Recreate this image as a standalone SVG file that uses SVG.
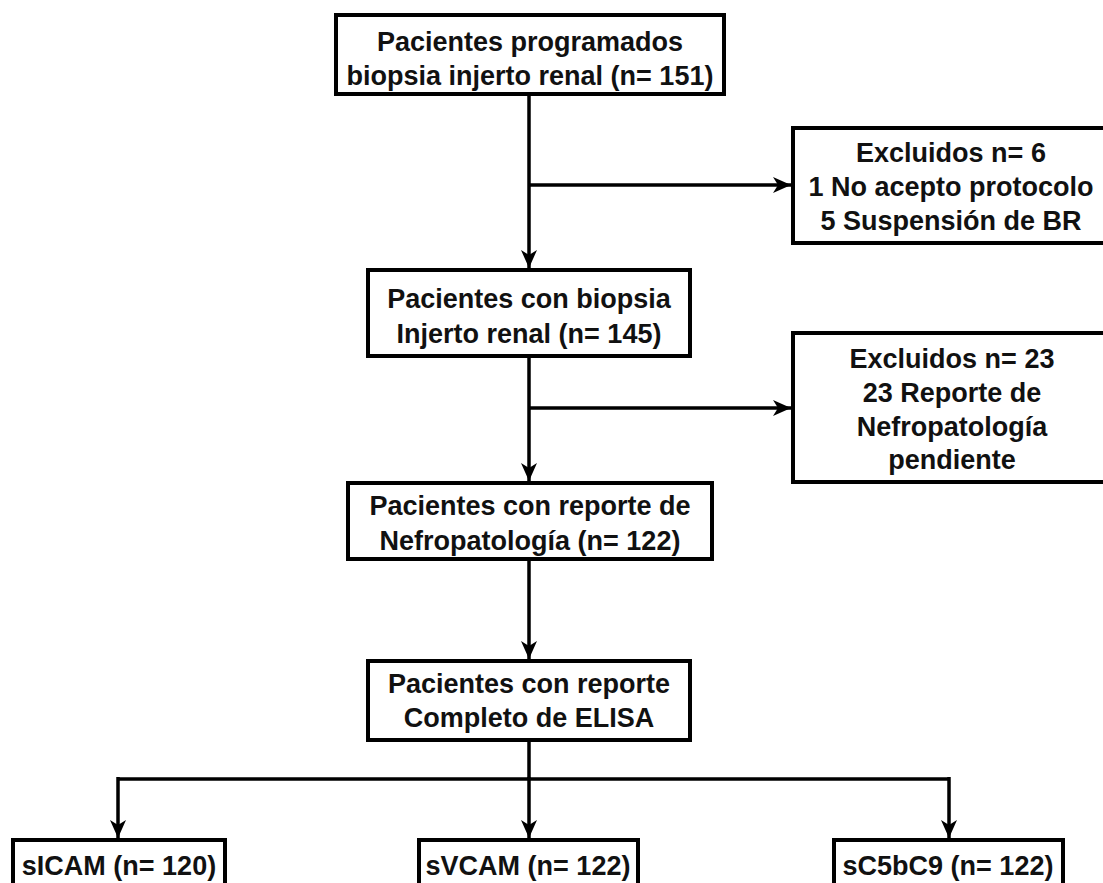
<svg xmlns="http://www.w3.org/2000/svg" width="1103" height="883" viewBox="0 0 1103 883">
  <style>
    .box { fill: #ffffff; stroke: #000000; stroke-width: 4; }
    .lbl { font-family: "Liberation Sans", Arial, sans-serif; font-weight: bold; font-size: 27px; fill: #111111; text-anchor: middle; }
    .edge { fill: none; stroke: #000000; stroke-width: 3.5; }
    .arr { marker-end: url(#ah); }
  </style>
  <defs>
    <marker id="ah" markerUnits="userSpaceOnUse" markerWidth="19" markerHeight="16" refX="18" refY="8" orient="auto">
      <path d="M0,0 L18,8 L0,16 L5,8 Z" fill="#000000"/>
    </marker>
  </defs>
  <rect width="1103" height="883" fill="#ffffff"/>

  <g id="connectors">
    <path class="edge arr" d="M529,94 L529,268"/>
    <path class="edge arr" d="M529,185 L791,185"/>
    <path class="edge arr" d="M529,356 L529,481"/>
    <path class="edge arr" d="M529,408 L791,408"/>
    <path class="edge arr" d="M529,559 L529,659"/>
    <path class="edge" d="M529,740 L529,779"/>
    <path class="edge" d="M118,779 L949,779"/>
    <path class="edge arr" d="M118,777 L118,838"/>
    <path class="edge arr" d="M529,777 L529,838"/>
    <path class="edge arr" d="M949,777 L949,838"/>
  </g>

  <g id="n1">
    <rect class="box" x="336" y="15" width="388" height="79"/>
    <text class="lbl" x="530" y="51">Pacientes programados</text>
    <text class="lbl" x="530" y="85">biopsia injerto renal (n= 151)</text>
  </g>

  <g id="ex1">
    <rect class="box" x="793" y="128" width="330" height="115"/>
    <text class="lbl" x="951" y="162">Excluidos n= 6</text>
    <text class="lbl" x="951" y="196">1 No acepto protocolo</text>
    <text class="lbl" x="951" y="230">5 Suspensión de BR</text>
  </g>

  <g id="n2">
    <rect class="box" x="368" y="270" width="322" height="86"/>
    <text class="lbl" x="529" y="308">Pacientes con biopsia</text>
    <text class="lbl" x="529" y="343">Injerto renal (n= 145)</text>
  </g>

  <g id="ex2">
    <rect class="box" x="793" y="333" width="330" height="149"/>
    <text class="lbl" x="952" y="368">Excluidos n= 23</text>
    <text class="lbl" x="952" y="402">23 Reporte de</text>
    <text class="lbl" x="952" y="436">Nefropatología</text>
    <text class="lbl" x="952" y="469">pendiente</text>
  </g>

  <g id="n3">
    <rect class="box" x="348" y="483" width="364" height="76"/>
    <text class="lbl" x="530" y="515">Pacientes con reporte de</text>
    <text class="lbl" x="530" y="550">Nefropatología (n= 122)</text>
  </g>

  <g id="n4">
    <rect class="box" x="368" y="661" width="322" height="79"/>
    <text class="lbl" x="529" y="693">Pacientes con reporte</text>
    <text class="lbl" x="529" y="727">Completo de ELISA</text>
  </g>

  <g id="s1">
    <rect class="box" x="13" y="840" width="212" height="70"/>
    <text class="lbl" x="119" y="875">sICAM (n= 120)</text>
  </g>

  <g id="s2">
    <rect class="box" x="419" y="840" width="219" height="70"/>
    <text class="lbl" x="528" y="875">sVCAM (n= 122)</text>
  </g>

  <g id="s3">
    <rect class="box" x="834" y="840" width="229" height="70"/>
    <text class="lbl" x="948" y="875">sC5bC9 (n= 122)</text>
  </g>
</svg>
